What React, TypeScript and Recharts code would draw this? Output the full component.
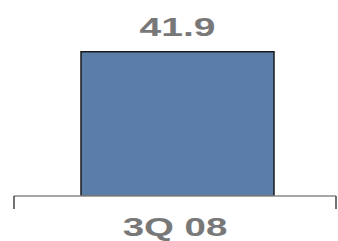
import React from 'react';
import { BarChart, Bar, XAxis, YAxis, LabelList } from 'recharts';

const categories = ['3Q 08'];
const values = [41.9];

const data = categories.map((c, i) => ({ quarter: c, value: values[i] }));

const TEXT_COLOR = '#787878';
const PAD_LEFT = 4;

const CategoryTick = (props: any) => {
  const { x, y, payload } = props;
  const half = Number(payload && payload.offset) || 159;
  const left = x - half - PAD_LEFT;
  const right = x + half;
  const axisY = y - 8;
  return (
    <g>
      <line x1={left} x2={left} y1={axisY} y2={axisY + 13} stroke="#444" strokeWidth={1.5} />
      <line x1={right} x2={right} y1={axisY} y2={axisY + 13} stroke="#444" strokeWidth={1.5} />
      <text
        transform={`translate(${x - 2} ${y + 32}) scale(1.45 1)`}
        x={0}
        y={0}
        textAnchor="middle"
        fill={TEXT_COLOR}
        fontFamily="'Liberation Sans', Arial, sans-serif"
        fontWeight="bold"
        fontSize={26.5}
      >
        {payload.value}
      </text>
    </g>
  );
};

const ValueLabel = (props: any) => {
  const { x, y, width, value } = props;
  const cx = Number(x) + Number(width) / 2;
  return (
    <text
      transform={`translate(${cx} ${Number(y) - 16}) scale(1.5 1)`}
      x={0}
      y={0}
      textAnchor="middle"
      fill={TEXT_COLOR}
      fontFamily="'Liberation Sans', Arial, sans-serif"
      fontWeight="bold"
      fontSize={26}
    >
      {value}
    </text>
  );
};

export default function App() {
  return (
    <div style={{ position: 'absolute', left: 0, top: 0, width: 338, height: 241, background: '#fff' }}>
      <BarChart width={338} height={241} data={data} margin={{ top: 24, right: 2, bottom: 5, left: 14 }}>
        <XAxis
          dataKey="quarter"
          padding={{ left: PAD_LEFT, right: 0 }}
          tickLine={false}
          axisLine={{ stroke: '#8a8a8a', strokeWidth: 1.5 }}
          tick={<CategoryTick />}
          height={40}
          interval={0}
        />
        <YAxis hide domain={[0, 50]} allowDataOverflow />
        <Bar
          dataKey="value"
          fill="#5a7ea8"
          stroke="#1a1a1a"
          strokeWidth={1.5}
          barSize={193}
          isAnimationActive={false}
        >
          <LabelList dataKey="value" content={<ValueLabel />} />
        </Bar>
      </BarChart>
    </div>
  );
}
